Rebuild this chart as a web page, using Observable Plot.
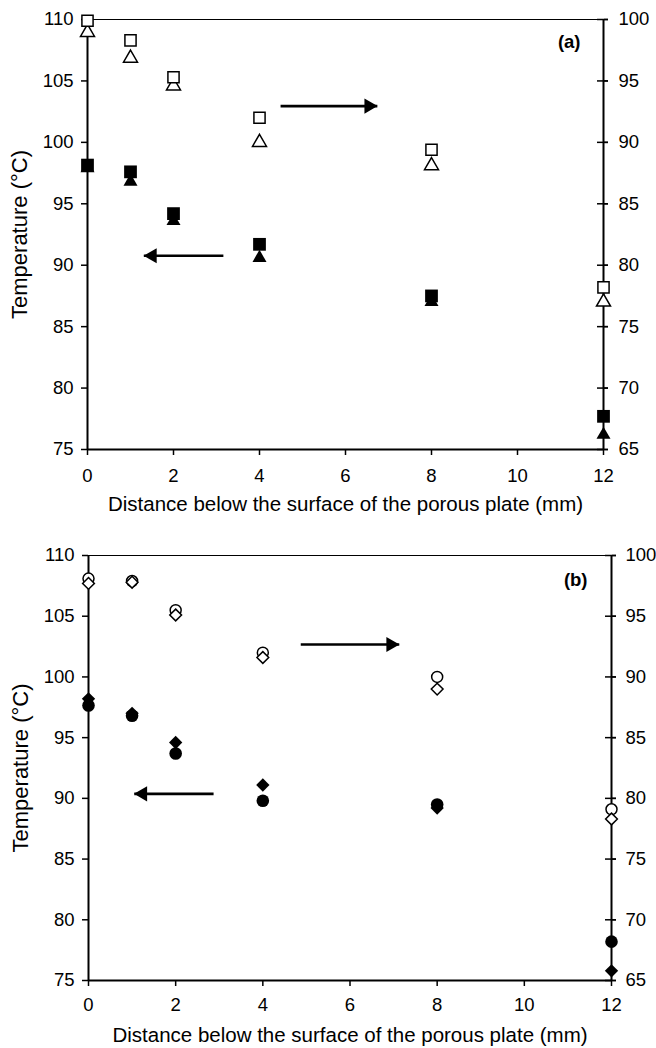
<!DOCTYPE html>
<html>
<head>
<meta charset="utf-8">
<script src="https://cdn.jsdelivr.net/npm/d3@7"></script>
<script src="https://cdn.jsdelivr.net/npm/@observablehq/plot@0.6"></script>
<style>
  html, body { margin: 0; padding: 0; background: #fff; }
  #chart { width: 656px; }
</style>
</head>
<body>
<div id="chart"></div>
<script>
// ---------- data ----------
const distance = [0, 1, 2, 4, 8, 12];             // mm below surface
const xTicks = [0, 2, 4, 6, 8, 10, 12];
const leftTicks = [75, 80, 85, 90, 95, 100, 105, 110];
const rightTicks = [65, 70, 75, 80, 85, 90, 95, 100];
const rightOffset = 10;                            // left value − right value

// Panel (a) – left axis (filled) and right axis (open)
const aSquareFilled   = [98.15, 97.6, 94.2, 91.7, 87.5, 77.7];
const aTriangleFilled = [97.9, 96.8, 93.6, 90.6, 87.0, 76.2];
const aSquareOpen     = [99.9, 98.3, 95.3, 92.0, 89.4, 78.2];
const aTriangleOpen   = [98.95, 96.85, 94.6, 90.0, 88.1, 77.0];

// Panel (b)
const bDiamondFilled  = [98.2, 97.0, 94.6, 91.1, 89.2, 75.8];
const bCircleFilled   = [97.65, 96.8, 93.7, 89.8, 89.5, 78.2];
const bCircleOpen     = [98.1, 97.9, 95.5, 92.0, 90.0, 79.1];
const bDiamondOpen    = [97.7, 97.8, 95.1, 91.6, 89.0, 78.3];

// Arrows (data units: x from → x tip, left-axis y)
const arrowsA = [{x1: 4.49, x2: 6.74, y: 102.95}, {x1: 3.16, x2: 1.31, y: 90.77}];
const arrowsB = [{x1: 4.87, x2: 7.13, y: 102.67}, {x1: 2.87, x2: 1.05, y: 90.37}];

const xTitle = "Distance below the surface of the porous plate (mm)";
const yTitle = "Temperature (°C)";

// ---------- helpers ----------
const rowsA = distance.map((x, i) => ({x,
  sqF: aSquareFilled[i], trF: aTriangleFilled[i],
  sqO: aSquareOpen[i] + rightOffset, trO: aTriangleOpen[i] + rightOffset}));
const rowsB = distance.map((x, i) => ({x,
  diF: bDiamondFilled[i], ciF: bCircleFilled[i],
  ciO: bCircleOpen[i] + rightOffset, diO: bDiamondOpen[i] + rightOffset}));

const rightLabel = new Map(rightTicks.map(v => [v + rightOffset, String(v)]));

function frameMarks(o) {
  return [
    Plot.ruleY([110], {stroke: "#000", strokeWidth: 1}),
    Plot.ruleY([75], {stroke: "#000", strokeWidth: 2}),
    Plot.ruleX([0, 12], {stroke: "#000", strokeWidth: 2}),
    Plot.axisX({ticks: xTicks, tickSize: 6, tickPadding: o.xPad, strokeWidth: 1.5, label: null}),
    Plot.axisY({anchor: "left", ticks: leftTicks, tickSize: 6, tickPadding: 8, strokeWidth: 1.5, label: null}),
    Plot.axisY({anchor: "right", ticks: rightTicks.map(v => v + rightOffset), tickSize: 11, dx: -7,
                strokeWidth: 1.5, tickFormat: () => "", label: null}),
    Plot.axisY({anchor: "right", ticks: rightTicks.map(v => v + rightOffset), tickSize: 4, tickPadding: o.rPad,
                strokeWidth: 1.5, tickFormat: d => rightLabel.get(d), label: null}),
    Plot.text([xTitle], {frameAnchor: "bottom", dy: 55, fontSize: 20.5, lineAnchor: "middle", fill: "#000"}),
    Plot.text([yTitle], {frameAnchor: "left", dx: -68, rotate: -90, fontSize: 22, lineAnchor: "middle",
                         textAnchor: "middle", fill: "#000"}),
    Plot.text([o.label], {frameAnchor: "top-right", dx: o.labDx, dy: o.labDy, textAnchor: "end",
                          lineAnchor: "middle", fontWeight: "bold", fontSize: 18.5, fill: "#000"})
  ];
}

function arrowMarks(arrows) {
  const right = arrows.filter(d => d.x2 > d.x1);
  const left = arrows.filter(d => d.x2 < d.x1);
  return [
    Plot.link(arrows, {x1: "x1", x2: "x2", y1: "y", y2: "y", stroke: "#000", strokeWidth: 2.6}),
    Plot.dot(right, {x: "x2", y: "y", symbol: "triangle", r: 5.6, fill: "#000", stroke: "none", rotate: 90, dx: -8.5}),
    Plot.dot(left, {x: "x2", y: "y", symbol: "triangle", r: 5.6, fill: "#000", stroke: "none", rotate: -90, dx: 8.5})
  ];
}

const style = {fontFamily: "'Liberation Sans', Arial, sans-serif", fontSize: "18.5px", color: "#000", background: "#fff", overflow: "visible"};

const plotA = Plot.plot({
  width: 656, height: 520,
  marginLeft: 87, marginRight: 53, marginTop: 19, marginBottom: 71,
  x: {domain: [0, 12]},
  y: {domain: [75, 110]},
  style,
  marks: [
    ...frameMarks({xPad: 13, rPad: 11, label: "(a)", labDx: -23, labDy: 23}),
    ...arrowMarks(arrowsA),
    Plot.dot(rowsA, {x: "x", y: "trO", symbol: "triangle", r: 5.2, fill: "#fff", stroke: "#000", strokeWidth: 1.5}),
    Plot.dot(rowsA, {x: "x", y: "sqO", symbol: "square", r: 6.3, fill: "#fff", stroke: "#000", strokeWidth: 1.5}),
    Plot.dot(rowsA, {x: "x", y: "trF", symbol: "triangle", r: 5.2, fill: "#000", stroke: "none"}),
    Plot.dot(rowsA, {x: "x", y: "sqF", symbol: "square", r: 7.2, fill: "#000", stroke: "none"})
  ]
});

const plotB = Plot.plot({
  width: 656, height: 528,
  marginLeft: 88, marginRight: 45, marginTop: 35, marginBottom: 68,
  x: {domain: [0, 12]},
  y: {domain: [75, 110]},
  style,
  marks: [
    ...frameMarks({xPad: 11, rPad: 10, label: "(b)", labDx: -24, labDy: 25}),
    ...arrowMarks(arrowsB),
    Plot.dot(rowsB, {x: "x", y: "ciO", symbol: "circle", r: 5.5, fill: "#fff", stroke: "#000", strokeWidth: 1.5}),
    Plot.dot(rowsB, {x: "x", y: "diO", symbol: "diamond2", r: 5.3, fill: "#fff", stroke: "#000", strokeWidth: 1.5}),
    Plot.dot(rowsB, {x: "x", y: "diF", symbol: "diamond2", r: 6.0, fill: "#000", stroke: "none"}),
    Plot.dot(rowsB, {x: "x", y: "ciF", symbol: "circle", r: 6.3, fill: "#000", stroke: "none"})
  ]
});

const chart = document.getElementById("chart");
chart.appendChild(plotA);
chart.appendChild(plotB);
</script>
</body>
</html>
